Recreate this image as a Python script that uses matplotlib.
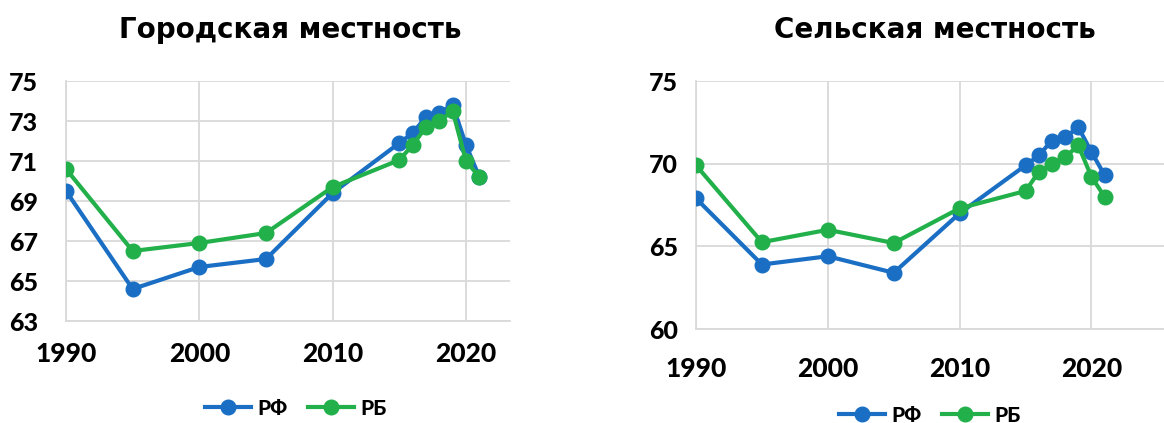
import matplotlib
matplotlib.use("Agg")
import matplotlib.pyplot as plt
from matplotlib.lines import Line2D

# years on the x axis
years = [1990, 1995, 2000, 2005, 2010, 2015, 2016, 2017, 2018, 2019, 2020, 2021]

# urban (Городская местность)
urban_rf = [69.5, 64.6, 65.7, 66.1, 69.4, 71.9, 72.4, 73.2, 73.4, 73.8, 71.8, 70.2]
urban_rb = [70.6, 66.5, 66.9, 67.4, 69.7, 71.05, 71.8, 72.7, 73.0, 73.5, 71.0, 70.2]

# rural (Сельская местность)
rural_rf = [67.9, 63.9, 64.4, 63.4, 67.0, 69.9, 70.5, 71.4, 71.6, 72.2, 70.7, 69.3]
rural_rb = [69.9, 65.25, 66.0, 65.2, 67.3, 68.35, 69.5, 70.0, 70.4, 71.1, 69.2, 68.0]

titles = ["Городская местность", "Сельская местность"]
labels = ["РФ", "РБ"]
blue = "#1a6fc4"
green = "#22b04b"
grid_c = "#d9d9d9"
font = "Lato"

plt.rcParams["font.family"] = [font, "DejaVu Sans"]

fig = plt.figure(figsize=(11.64, 4.23), dpi=100)
ax1 = fig.add_axes([66 / 1164, 1 - 321 / 423, (510 - 66) / 1164, 240 / 423])
ax2 = fig.add_axes([696 / 1164, 1 - 329 / 423, (1164 - 696) / 1164, 248 / 423])


def draw(ax, rf, rb, ylim, yticks, xmax, xpad, ypad):
    ax.plot(years, rf, color=blue, lw=3, marker="o", ms=10.5, zorder=3)
    ax.plot(years, rb, color=green, lw=3, marker="o", ms=10.5, zorder=4)
    ax.set_xlim(1990, xmax)
    ax.set_ylim(*ylim)
    ax.set_yticks(yticks)
    ax.set_xticks([1990, 2000, 2010, 2020])
    ax.grid(True, color=grid_c, lw=1.3)
    ax.set_axisbelow(True)
    for s in ["top", "right"]:
        ax.spines[s].set_visible(False)
    for s in ["left", "bottom"]:
        ax.spines[s].set_color(grid_c)
        ax.spines[s].set_linewidth(1.3)
    ax.tick_params(length=0)
    for t in ax.get_xticklabels():
        t.set_fontsize(19)
        t.set_fontweight("black")
    for t in ax.get_yticklabels():
        t.set_fontsize(18)
        t.set_fontweight("black")
    ax.tick_params(axis="x", pad=xpad)
    ax.tick_params(axis="y", pad=ypad)


draw(ax1, urban_rf, urban_rb, (63, 75), range(63, 76, 2), 2023.3, 15, 20)
draw(ax2, rural_rf, rural_rb, (60, 75), range(60, 76, 5), 2025.5, 20, 13)

for cx, title in zip([290, 935], titles):
    fig.text(cx / 1164, 1 - 30 / 423, title, ha="center", va="center",
             fontsize=20, fontweight="bold", family="DejaVu Sans")

handles = [Line2D([], [], color=blue, lw=3, marker="o", ms=10.5),
           Line2D([], [], color=green, lw=3, marker="o", ms=10.5)]
for cx, cy in [(296, 408), (930, 415)]:
    fig.legend(handles, labels, loc="center", bbox_to_anchor=(cx / 1164, 1 - cy / 423),
               ncol=2, frameon=False, handlelength=2.2, handletextpad=0.3,
               columnspacing=1.0, prop={"family": font, "weight": "black", "size": 15})

fig.savefig("out.png", dpi=100)
